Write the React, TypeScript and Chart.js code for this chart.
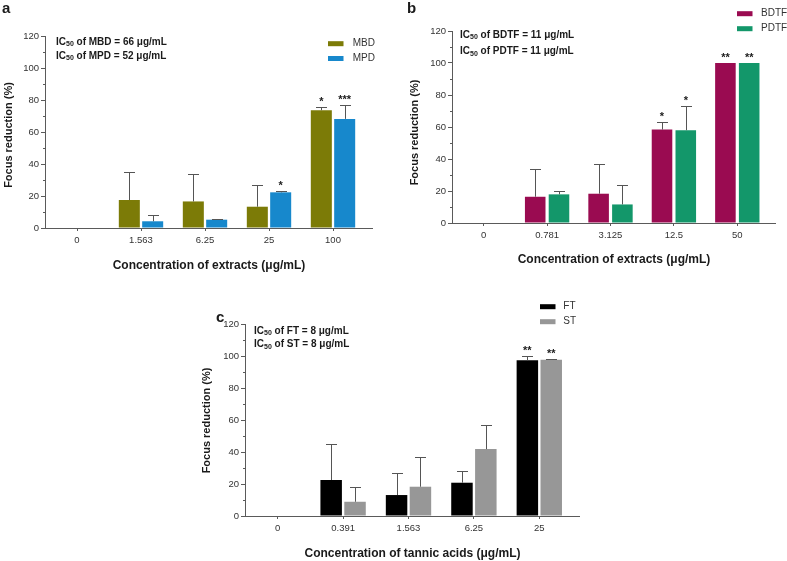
import React, { useEffect, useRef } from 'react';
import { Chart, registerables } from 'chart.js';

Chart.register(...registerables);

const FONT = '"Liberation Sans", Arial, Helvetica, sans-serif';
const AXIS = '#5a5a5a';
const TEXT = '#1a1a1a';

// ---------- Panel a data ----------
const categoriesA = ['0', '1.563', '6.25', '25', '100'];
const mbdValues = [0, 17.5, 16.6, 13.3, 73.6];
const mbdErrors = [0, 17.6, 16.9, 13.5, 2.1];
const mbdStars = ['', '', '', '', '*'];
const mpdValues = [0, 4.2, 5.2, 22.3, 68.2];
const mpdErrors = [0, 4.1, 0.4, 1.0, 8.5];
const mpdStars = ['', '', '', '*', '***'];
const ic50A = ['66', '52'];

// ---------- Panel b data ----------
const categoriesB = ['0', '0.781', '3.125', '12.5', '50'];
const bdtfValues = [0, 16.4, 18.3, 58.4, 100];
const bdtfErrors = [0, 17.1, 18.3, 4.8, 0];
const bdtfStars = ['', '', '', '*', '**'];
const pdtfValues = [0, 17.9, 11.6, 58.0, 100];
const pdtfErrors = [0, 2.1, 11.9, 15.4, 0];
const pdtfStars = ['', '', '', '*', '**'];
const ic50B = ['11', '11'];

// ---------- Panel c data ----------
const categoriesC = ['0', '0.391', '1.563', '6.25', '25'];
const ftValues = [0, 22.5, 13.1, 20.8, 97.3];
const ftErrors = [0, 22.6, 13.7, 7.5, 2.5];
const ftStars = ['', '', '', '', '**'];
const stValues = [0, 8.9, 18.3, 41.8, 97.7];
const stErrors = [0, 9.2, 18.5, 14.9, 0.4];
const stStars = ['', '', '', '', '**'];
const ic50C = ['8', '8'];

// ---------- Shared axis ----------
const yMin = 0;
const yMax = 120;
const yStep = 20;
const yMinorTicks = [10, 30, 50, 70, 90, 110];
const yTitle = 'Focus reduction (%)';

interface Series {
  label: string;
  color: string;
  values: number[];
  errors: number[];
  stars: string[];
  ic50: string;
}

interface Panel {
  key: string;
  left: number;
  top: number;
  width: number;
  height: number;
  yWidth: number;
  xHeight: number;
  padTop: number;
  padRight: number;
  axisExt: number;
  catPct: number;
  barPct: number;
  categories: string[];
  series: Series[];
  letter: string;
  letterPos: [number, number];
  yTitlePos: [number, number];
  xTitle: string;
  xTitlePos: [number, number];
  annotPos: [number, number, number];
  legendPos: [number, number, number, number];
}

const panels: Panel[] = [
  {
    key: 'a',
    left: 0, top: 0, width: 390, height: 280,
    yWidth: 45, xHeight: 52, padTop: 36, padRight: 25, axisExt: 8,
    catPct: 0.73, barPct: 0.9,
    categories: categoriesA,
    series: [
      { label: 'MBD', color: '#7c7b07', values: mbdValues, errors: mbdErrors, stars: mbdStars, ic50: ic50A[0] },
      { label: 'MPD', color: '#1788cc', values: mpdValues, errors: mpdErrors, stars: mpdStars, ic50: ic50A[1] },
    ],
    letter: 'a', letterPos: [2, 13],
    yTitlePos: [9, 135],
    xTitle: 'Concentration of extracts (\u03bcg/mL)', xTitlePos: [209, 265.5],
    annotPos: [56, 42, 14],
    legendPos: [328, 43.7, 14.8, 352.7],
  },
  {
    key: 'b',
    left: 390, top: 0, width: 397, height: 280,
    yWidth: 62, xHeight: 57, padTop: 31, padRight: 18, axisExt: 7,
    catPct: 0.75, barPct: 0.865,
    categories: categoriesB,
    series: [
      { label: 'BDTF', color: '#9a0b51', values: bdtfValues, errors: bdtfErrors, stars: bdtfStars, ic50: ic50B[0] },
      { label: 'PDTF', color: '#13976a', values: pdtfValues, errors: pdtfErrors, stars: pdtfStars, ic50: ic50B[1] },
    ],
    letter: 'b', letterPos: [407, 13],
    yTitlePos: [415, 132.5],
    xTitle: 'Concentration of extracts (\u03bcg/mL)', xTitlePos: [614, 260],
    annotPos: [460, 35, 16.5],
    legendPos: [737, 13.7, 15, 761],
  },
  {
    key: 'c',
    left: 180, top: 280, width: 420, height: 281,
    yWidth: 65, xHeight: 45, padTop: 44, padRight: 28, axisExt: 8,
    catPct: 0.73, barPct: 0.9,
    categories: categoriesC,
    series: [
      { label: 'FT', color: '#000000', values: ftValues, errors: ftErrors, stars: ftStars, ic50: ic50C[0] },
      { label: 'ST', color: '#979797', values: stValues, errors: stErrors, stars: stStars, ic50: ic50C[1] },
    ],
    letter: 'c', letterPos: [216, 322],
    yTitlePos: [207, 420.5],
    xTitle: 'Concentration of tannic acids (\u03bcg/mL)', xTitlePos: [412.5, 553.5],
    annotPos: [254, 331, 13.5],
    legendPos: [540, 306.7, 15, 563.3],
  },
];

function makeOverlay(panel: Panel) {
  return {
    id: 'overlay_' + panel.key,
    afterDatasetsDraw(chart: any) {
      const ctx: CanvasRenderingContext2D = chart.ctx;
      const area = chart.chartArea;
      const ys = chart.scales.y;
      ctx.save();
      ctx.strokeStyle = AXIS;
      ctx.lineWidth = 1;
      // x axis line (extends slightly past last category)
      const by = Math.floor(area.bottom) + 0.5;
      ctx.beginPath();
      ctx.moveTo(area.left, by);
      ctx.lineTo(area.right + panel.axisExt, by);
      ctx.stroke();
      // minor y ticks
      const lx = Math.floor(area.left) + 0.5;
      yMinorTicks.forEach((v) => {
        const py = Math.floor(ys.getPixelForValue(v)) + 0.5;
        ctx.beginPath();
        ctx.moveTo(lx - 2.5, py);
        ctx.lineTo(lx, py);
        ctx.stroke();
      });
      // error bars + significance stars
      panel.series.forEach((s, i) => {
        const meta = chart.getDatasetMeta(i);
        s.values.forEach((v, j) => {
          const bar: any = meta.data[j];
          if (!bar) return;
          const cx = Math.round(bar.x) + 0.5;
          const pv = ys.getPixelForValue(v);
          const top = ys.getPixelForValue(v + (s.errors[j] || 0));
          if (s.errors[j] > 0) {
            ctx.strokeStyle = '#555555';
            ctx.beginPath();
            ctx.moveTo(cx, pv);
            ctx.lineTo(cx, Math.round(top) + 0.5);
            ctx.moveTo(cx - 5.5, Math.round(top) + 0.5);
            ctx.lineTo(cx + 5.5, Math.round(top) + 0.5);
            ctx.stroke();
          }
          if (s.stars[j]) {
            ctx.fillStyle = TEXT;
            ctx.font = `bold 11px ${FONT}`;
            ctx.textAlign = 'center';
            ctx.textBaseline = 'alphabetic';
            ctx.fillText(s.stars[j], bar.x, top - 2);
          }
        });
      });
      ctx.restore();
    },
    afterDraw(chart: any) {
      const ctx: CanvasRenderingContext2D = chart.ctx;
      const ox = panel.left;
      const oy = panel.top;
      ctx.save();
      ctx.fillStyle = TEXT;
      // panel letter
      ctx.font = `bold 15px ${FONT}`;
      ctx.textAlign = 'left';
      ctx.textBaseline = 'alphabetic';
      ctx.fillText(panel.letter, panel.letterPos[0] - ox, panel.letterPos[1] - oy);
      // y title
      ctx.save();
      ctx.translate(panel.yTitlePos[0] - ox, panel.yTitlePos[1] - oy);
      ctx.rotate(-Math.PI / 2);
      ctx.font = `bold 11px ${FONT}`;
      ctx.textAlign = 'center';
      ctx.textBaseline = 'middle';
      ctx.fillText(yTitle, 0, 0);
      ctx.restore();
      // x title
      ctx.font = `bold 12px ${FONT}`;
      ctx.textAlign = 'center';
      ctx.textBaseline = 'middle';
      ctx.fillText(panel.xTitle, panel.xTitlePos[0] - ox, panel.xTitlePos[1] - oy);
      // IC50 annotations
      const [ax, ay, ady] = panel.annotPos;
      panel.series.forEach((s, i) => {
        let x = ax - ox;
        const y = ay + i * ady - oy;
        ctx.textAlign = 'left';
        ctx.textBaseline = 'middle';
        ctx.font = `bold 10px ${FONT}`;
        ctx.fillText('IC', x, y);
        x += ctx.measureText('IC').width;
        ctx.font = `bold 7px ${FONT}`;
        ctx.fillText('50', x, y + 2.5);
        x += ctx.measureText('50').width;
        ctx.font = `bold 10px ${FONT}`;
        const rest = ` of ${s.label} = ${s.ic50} \u03bcg/mL`;
        ctx.fillText(rest, x, y);
      });
      // legend
      const [lx, ly, ldy, tx] = panel.legendPos;
      panel.series.forEach((s, i) => {
        const y = ly + i * ldy - oy;
        ctx.fillStyle = s.color;
        ctx.fillRect(lx - ox, y - 2.5, 15.5, 5);
        ctx.fillStyle = '#333333';
        ctx.font = `10px ${FONT}`;
        ctx.textAlign = 'left';
        ctx.textBaseline = 'middle';
        ctx.fillText(s.label, tx - ox, y);
      });
      ctx.restore();
    },
  };
}

function PanelChart({ panel }: { panel: Panel }) {
  const ref = useRef<HTMLCanvasElement>(null);
  useEffect(() => {
    if (!ref.current) return;
    const chart = new Chart(ref.current, {
      type: 'bar',
      data: {
        labels: panel.categories,
        datasets: panel.series.map((s) => ({
          label: s.label,
          data: s.values,
          backgroundColor: s.color,
          borderWidth: 0,
          categoryPercentage: panel.catPct,
          barPercentage: panel.barPct,
        })),
      },
      options: {
        responsive: false,
        animation: false,
        devicePixelRatio: 1,
        layout: { padding: { left: 0, top: panel.padTop, right: panel.padRight, bottom: 0 } },
        plugins: {
          legend: { display: false },
          tooltip: { enabled: false },
          title: { display: false },
        },
        scales: {
          x: {
            type: 'category',
            offset: true,
            grid: {
              display: true,
              offset: false,
              drawOnChartArea: false,
              drawTicks: true,
              tickLength: 3,
              color: AXIS,
              lineWidth: 1,
            },
            border: { display: false },
            ticks: {
              color: '#333333',
              font: { family: FONT, size: 9.5 },
              padding: 4,
              maxRotation: 0,
              autoSkip: false,
            },
            afterFit: (s: any) => {
              s.height = panel.xHeight;
              s.paddingLeft = 0;
              s.paddingRight = 0;
            },
          },
          y: {
            type: 'linear',
            min: yMin,
            max: yMax,
            ticks: {
              stepSize: yStep,
              color: '#333333',
              font: { family: FONT, size: 9.5 },
              padding: 2,
            },
            grid: {
              display: true,
              drawOnChartArea: false,
              drawTicks: true,
              tickLength: 4,
              color: AXIS,
              lineWidth: 1,
            },
            border: { display: true, color: AXIS, width: 1 },
            afterFit: (s: any) => {
              s.width = panel.yWidth;
              s.paddingTop = 0;
              s.paddingBottom = 0;
            },
          },
        },
      } as any,
      plugins: [makeOverlay(panel)],
    });
    return () => chart.destroy();
  }, [panel]);
  return (
    <canvas
      ref={ref}
      width={panel.width}
      height={panel.height}
      style={{
        position: 'absolute',
        left: panel.left,
        top: panel.top,
        width: panel.width,
        height: panel.height,
      }}
    />
  );
}

export default function App() {
  useEffect(() => {
    document.body.style.margin = '0';
  }, []);
  return (
    <div
      style={{
        position: 'absolute',
        left: 0,
        top: 0,
        width: 787,
        height: 561,
        background: '#ffffff',
        overflow: 'hidden',
      }}
    >
      {panels.map((p) => (
        <PanelChart key={p.key} panel={p} />
      ))}
    </div>
  );
}
